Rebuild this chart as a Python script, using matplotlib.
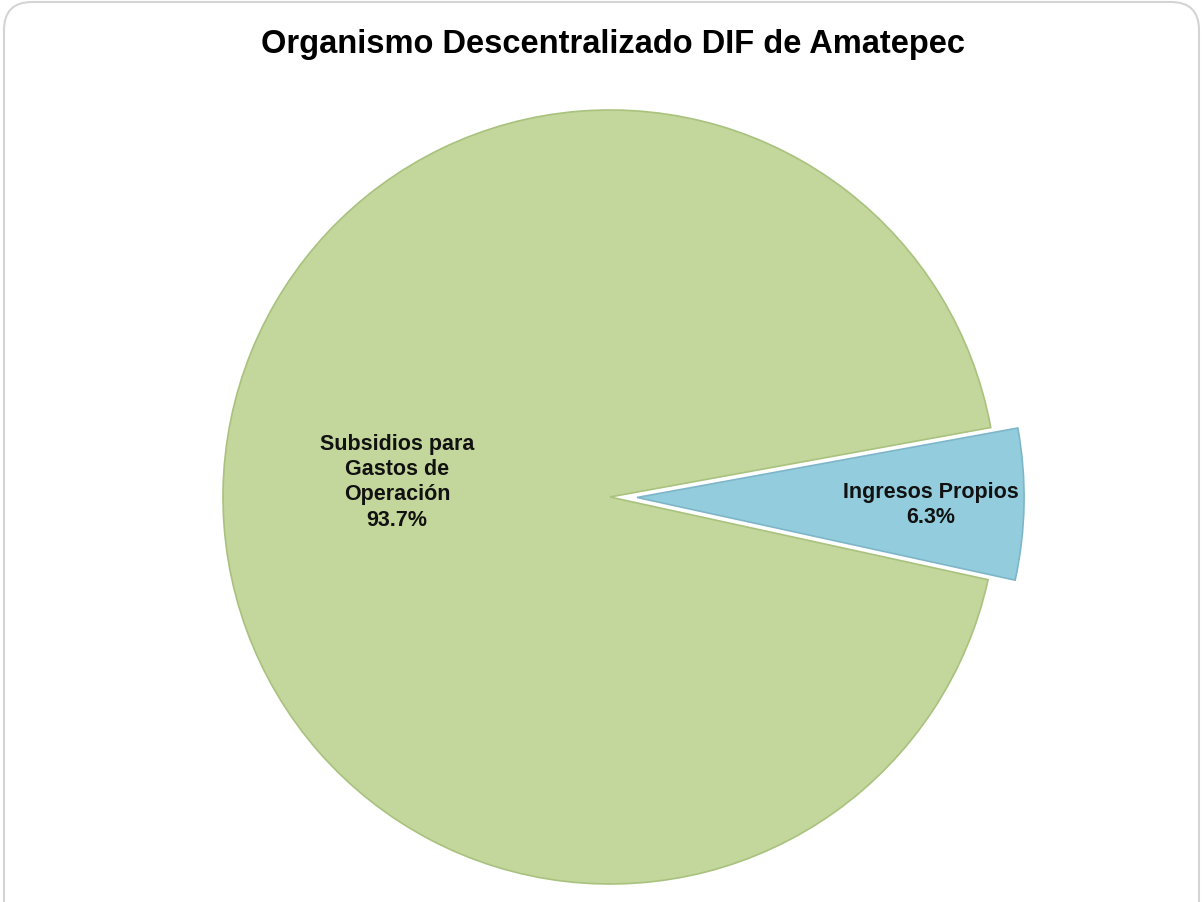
import matplotlib.pyplot as plt
import numpy as np
from matplotlib.patches import FancyBboxPatch

# data
categories = ['Ingresos Propios', 'Subsidios para\nGastos de\nOperación']
shares = [6.3, 93.7]
colors = ['#93CDDD', '#C3D69B']
edge_colors = ['#7DB6C8', '#A9C27E']
explode = [0.07, 0.0]

plt.rcParams['font.family'] = ['Liberation Sans', 'DejaVu Sans']

W, H = 1204, 903
fig = plt.figure(figsize=(W / 100, H / 100), dpi=100)
fig.patch.set_facecolor('white')

# rounded frame around the chart area
frame = FancyBboxPatch((4, -40), 1195, H - 3 + 40, boxstyle='round,pad=0,rounding_size=28',
                       transform=None, facecolor='none', edgecolor='#D4D4D4', lw=1.5)
fig.patches.append(frame)

ax = fig.add_axes([0, 0, 1, 1])

cx, cy, r = 610, H - 498, 387
start = -11.34 - 1.0
wedges, _ = ax.pie(shares, colors=colors, explode=[e * r for e in explode],
                   startangle=start, center=(cx, cy), radius=r,
                   wedgeprops=dict(linewidth=1.2), frame=True)
for w, ec in zip(wedges, edge_colors):
    w.set_edgecolor(ec)
ax.set_xlim(0, W)
ax.set_ylim(0, H)
ax.set_aspect('equal')
ax.axis('off')

label_dist = [0.76, 0.55]
label_shift = [-1, 12]
for w, cat, val, d, s in zip(wedges, categories, shares, label_dist, label_shift):
    ang = np.deg2rad((w.theta1 + w.theta2) / 2)
    x0, y0 = w.center
    tx = x0 + d * r * np.cos(ang)
    ty = y0 + d * r * np.sin(ang) + s
    ax.text(tx, ty, f'{cat}\n{val:.1f}%', ha='center', va='center',
            fontsize=15.5, fontweight='bold', color='#111111', linespacing=1.26)

fig.text(613 / W, 1 - 45 / H, 'Organismo Descentralizado DIF de Amatepec',
         ha='center', va='center', fontsize=23.5, fontweight='bold', color='black')

fig.savefig('out.png', dpi=100)
